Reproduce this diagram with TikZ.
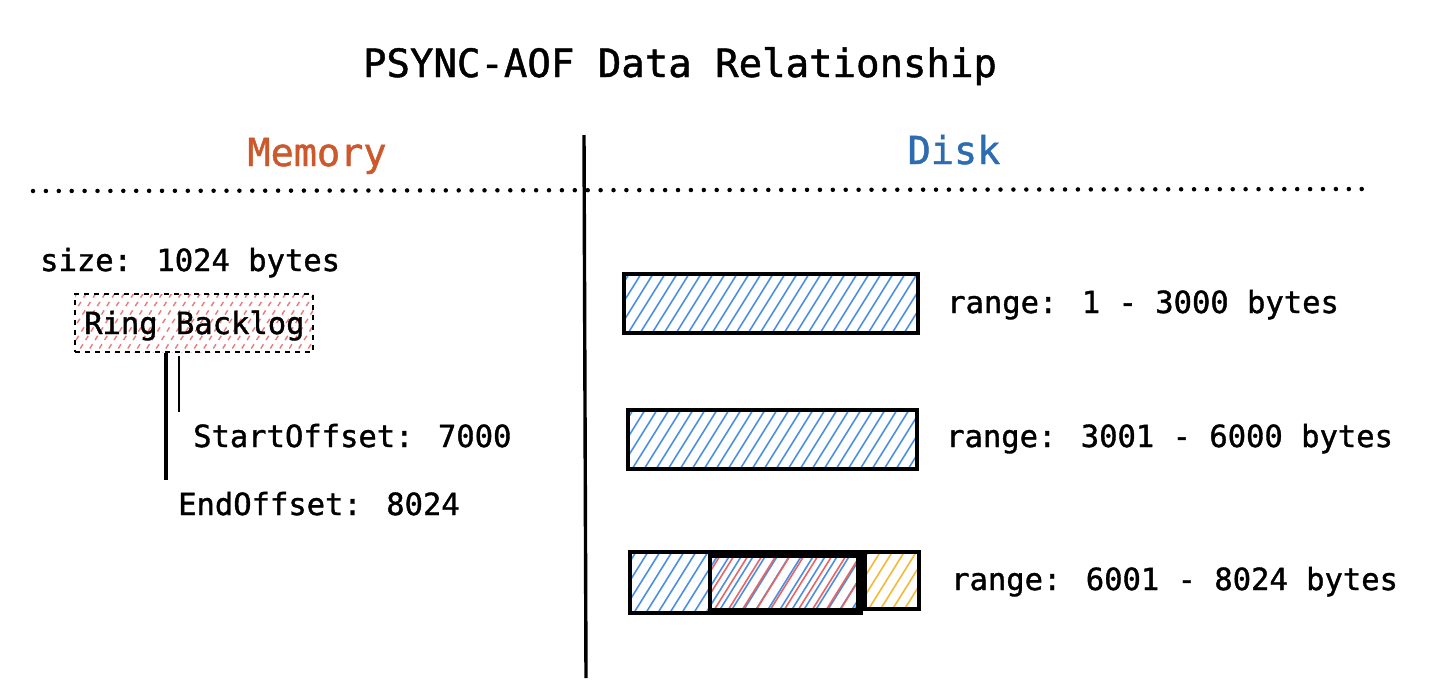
\documentclass[tikz,border=0pt]{standalone}
\usepackage{fontspec}
\newfontfamily\mono{DejaVu Sans Mono}[FakeBold=1.2]
\usetikzlibrary{calc}
\definecolor{memc}{RGB}{205,88,44}
\definecolor{diskc}{RGB}{46,108,178}
\definecolor{hblue}{RGB}{74,144,226}
\definecolor{hred}{RGB}{232,100,100}
\definecolor{hyel}{RGB}{245,185,50}
\tikzset{
  txt/.style={inner sep=0pt, anchor=base west, font=\mono\fontsize{30.5}{36}\selectfont},
  head/.style={inner sep=0pt, anchor=base, font=\mono\fontsize{38.5}{44}\selectfont},
  hatch/.style 2 args={path picture={
      \foreach \k in {-8,...,40}
        \draw[#1, line width=1.6pt]
          ($(path picture bounding box.south west)+(\k*#2,-5pt)+(1pt,0)$) -- ++(58:160pt);}},
  barbox/.style={draw=black, line width=4pt, inner sep=0pt},
  ringbox/.style={draw=black, line width=2.6pt, dash pattern=on 5pt off 5pt, inner sep=0pt,
      path picture={
      \foreach \k in {-8,...,40}
        \draw[hred!85, line width=1.4pt]
          ($(path picture bounding box.south west)+(\k*9.5pt,-5pt)$) -- ++(58:160pt);}},
  link/.style={draw=black, line width=3.2pt},
}
\begin{document}
\begin{tikzpicture}[x=1pt,y=-1pt]
\useasboundingbox[fill=white] (0,0) rectangle (1434,694);

% title and headings
\node[head, font=\mono\fontsize{39}{44}\selectfont] (title) at (680,77) {PSYNC-AOF Data Relationship};
\node[head, text=memc] (mem) at (317,166) {Memory};
\node[head, text=diskc] (disk) at (954,164) {Disk};

% separators
\draw[line width=4.5pt, line cap=round, dash pattern=on 0pt off 12.9pt] (33,191) -- (1368,189);
\draw[line width=3.4pt] (584,135) -- (586,678);

% memory side
\node[txt] (size) at (40,271) {size: 1024 bytes};
\node[ringbox, minimum width=238pt, minimum height=58pt] (rb) at (194,323) {};
\node[txt] (rbt) at (84,334) {Ring Backlog};
\node[txt] (so) at (193,447) {StartOffset: 7000};
\node[txt] (eo) at (178,515) {EndOffset: 8024};
\coordinate (eend) at (166,480);
\coordinate (send) at (179,412);
\draw[link] (rb.south -| eend) -- (eend);
\draw[link, line width=2.6pt] ($(rb.south -| send)+(0,3)$) -- (send);

% disk side
\node[barbox, hatch={hblue}{12pt}, minimum width=294pt, minimum height=59pt] (b1) at (771,303.5) {};
\node[txt] (r1) at (947,313) {range: 1 - 3000 bytes};
\node[barbox, hatch={hblue}{12pt}, minimum width=289pt, minimum height=59pt] (b2) at (772.5,439.5) {};
\node[txt] (r2) at (946,447) {range: 3001 - 6000 bytes};
\node[barbox, hatch={hblue}{12pt}, minimum width=231pt, minimum height=61pt] (b3) at (745.5,582) {};
\node[barbox, hatch={hred}{14pt}, minimum width=148pt, minimum height=54pt] (b3r) at (784,583) {};
\node[barbox, hatch={hyel}{12pt}, minimum width=54pt, minimum height=57pt] (b3y) at (891.5,580.5) {};
\node[txt] (r3) at (951,590) {range: 6001 - 8024 bytes};
\end{tikzpicture}
\end{document}
